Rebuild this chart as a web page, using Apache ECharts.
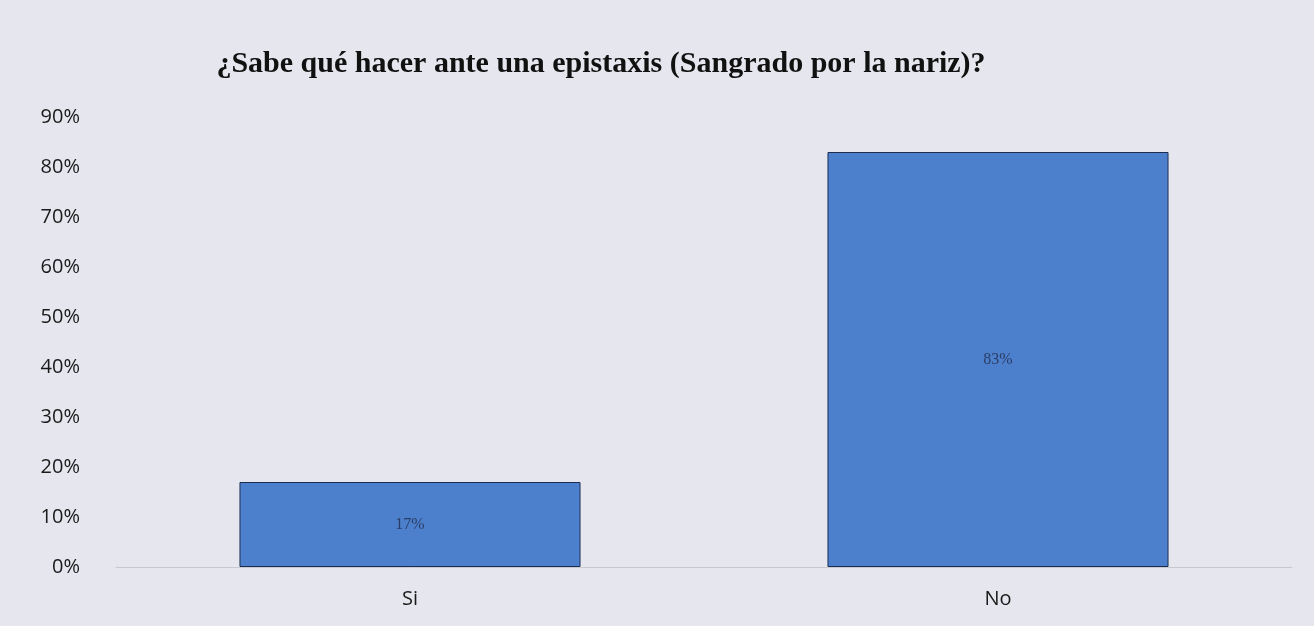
<!DOCTYPE html>
<html>
<head>
	<meta charset="utf-8">
	<script src="https://cdn.jsdelivr.net/npm/echarts@6/dist/echarts.min.js"></script>
</head>
<body style="margin:0;background:#e6e7ee;">
	<div id="main" style="width:1314px;height:626px;"></div>
	<script type="text/javascript">
        // datos del grafico
        var categorias = ['Si', 'No'];
        var valores = [17, 83];
        var ticksY = [0, 10, 20, 30, 40, 50, 60, 70, 80, 90];

        var myChart = echarts.init(document.getElementById('main'));
        var option = {
            backgroundColor: '#e6e7ee',
            title: {
                text: '¿Sabe qué hacer ante una epistaxis (Sangrado por la nariz)?',
                left: 596,
                textAlign: 'center',
                top: 44,
                textStyle: {
                    fontFamily: 'Liberation Serif',
                    fontWeight: 'bold',
                    fontSize: 30,
                    color: '#111'
                }
            },
            grid: {
                left: 116,
                right: 22,
                top: 117,
                bottom: 59
            },
            xAxis: {
                type: 'category',
                data: categorias,
                axisTick: {show: false},
                axisLine: {lineStyle: {color: '#c8c9cf', width: 1}},
                axisLabel: {
                    margin: 22,
                    fontFamily: 'Open Sans',
                    fontSize: 20,
                    color: '#1a1a1a'
                }
            },
            yAxis: {
                type: 'value',
                min: 0,
                max: ticksY[ticksY.length - 1],
                interval: 10,
                splitLine: {show: false},
                axisLine: {show: false},
                axisTick: {show: false},
                axisLabel: {
                    margin: 36,
                    fontFamily: 'Open Sans',
                    fontSize: 20,
                    color: '#1a1a1a',
                    formatter: '{value}%'
                }
            },
            series: [{
                type: 'bar',
                data: valores,
                barWidth: '58%',
                itemStyle: {
                    color: '#4d80cc',
                    borderColor: '#1d2d52',
                    borderWidth: 1
                },
                label: {
                    show: true,
                    position: 'inside',
                    formatter: '{c}%',
                    fontFamily: 'Liberation Serif',
                    fontSize: 16,
                    color: '#2b3d66'
                }
            }]
        };
        myChart.setOption(option);
    </script>
</body>
</html>
